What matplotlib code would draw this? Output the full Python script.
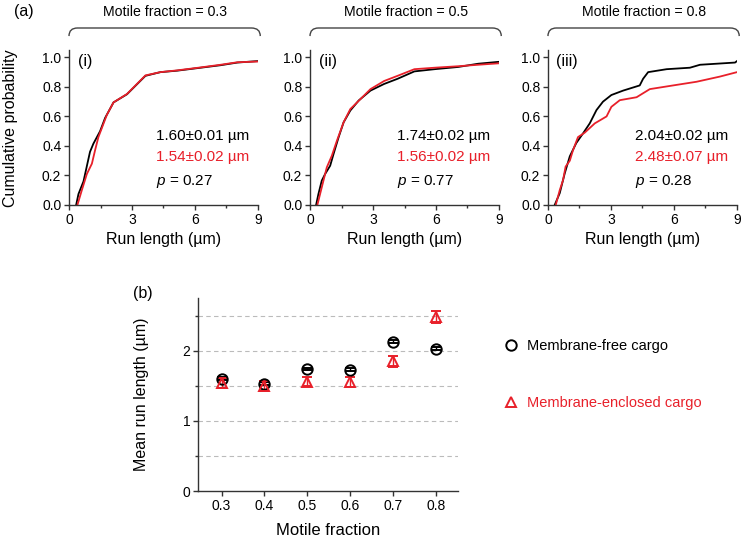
import matplotlib.pyplot as plt
from matplotlib.path import Path
from matplotlib.patches import PathPatch
from matplotlib.lines import Line2D
from matplotlib.ticker import MultipleLocator

plt.rcParams['font.family'] = ['Liberation Sans', 'DejaVu Sans']
plt.rcParams['mathtext.fontset'] = 'custom'
plt.rcParams['mathtext.it'] = 'Liberation Sans:italic'
plt.rcParams['mathtext.rm'] = 'Liberation Sans'

RED = '#e8202a'
AXC = '#333333'

# cumulative run-length curves (x in µm, y = cumulative probability) (i)-(iii)
free_x_03 = [0.34, 0.45, 0.69, 0.86, 1.00, 1.16, 1.48, 1.72, 2.12, 2.76, 3.64, 4.35, 5.15, 6.27, 7.22, 8.02, 9.0]
free_y_03 = [0.0, 0.074, 0.16, 0.27, 0.36, 0.415, 0.50, 0.59, 0.695, 0.75, 0.875, 0.90, 0.91, 0.93, 0.947, 0.965, 0.975]
encl_x_03 = [0.40, 0.61, 0.85, 1.09, 1.24, 1.40, 1.64, 1.80, 2.12, 2.76, 3.64, 4.35, 5.15, 6.27, 7.22, 8.02, 9.0]
encl_y_03 = [0.0, 0.10, 0.21, 0.28, 0.37, 0.46, 0.55, 0.61, 0.695, 0.752, 0.878, 0.90, 0.912, 0.932, 0.95, 0.967, 0.972]

free_x_05 = [0.29, 0.40, 0.56, 0.72, 0.96, 1.12, 1.36, 1.60, 1.92, 2.32, 2.88, 3.53, 4.17, 4.97, 5.93, 7.05, 8.01, 9.0]
free_y_05 = [0.0, 0.074, 0.165, 0.21, 0.266, 0.345, 0.458, 0.56, 0.64, 0.708, 0.775, 0.82, 0.855, 0.905, 0.92, 0.935, 0.957, 0.97]
encl_x_05 = [0.35, 0.48, 0.64, 0.80, 1.04, 1.28, 1.60, 1.92, 2.40, 2.88, 3.53, 4.17, 4.97, 5.93, 7.05, 8.01, 9.0]
encl_y_05 = [0.0, 0.074, 0.165, 0.255, 0.334, 0.435, 0.56, 0.65, 0.717, 0.785, 0.84, 0.875, 0.92, 0.93, 0.94, 0.95, 0.96]

free_x_08 = [0.32, 0.56, 0.80, 1.04, 1.35, 1.67, 1.99, 2.31, 2.62, 3.02, 3.58, 4.37, 4.53, 4.77, 5.65, 6.76, 7.24, 8.91, 9.0]
free_y_08 = [0.0, 0.08, 0.215, 0.33, 0.42, 0.485, 0.553, 0.643, 0.70, 0.745, 0.775, 0.81, 0.855, 0.90, 0.92, 0.93, 0.95, 0.965, 0.975]
encl_x_08 = [0.37, 0.56, 0.72, 0.84, 1.04, 1.19, 1.43, 1.75, 2.23, 2.79, 3.02, 3.42, 4.22, 4.85, 5.96, 7.08, 8.19, 9.0]
encl_y_08 = [0.0, 0.10, 0.17, 0.26, 0.30, 0.37, 0.46, 0.49, 0.553, 0.60, 0.665, 0.71, 0.73, 0.785, 0.81, 0.835, 0.87, 0.90]

panel_fracs = ['0.3', '0.5', '0.8']
panel_tags = ['(i)', '(ii)', '(iii)']
free_text = ['1.60\u00b10.01 \u00b5m', '1.74\u00b10.02 \u00b5m', '2.04\u00b10.02 \u00b5m']
encl_text = ['1.54\u00b10.02 \u00b5m', '1.56\u00b10.02 \u00b5m', '2.48\u00b10.07 \u00b5m']
p_values = ['0.27', '0.77', '0.28']

# panel (b)
fractions = [0.3, 0.4, 0.5, 0.6, 0.7, 0.8]
free_mean = [1.60, 1.53, 1.74, 1.73, 2.13, 2.03]
free_err = [0.02, 0.02, 0.02, 0.02, 0.02, 0.02]
encl_mean = [1.54, 1.50, 1.56, 1.55, 1.85, 2.48]
encl_err = [0.07, 0.07, 0.07, 0.07, 0.08, 0.08]

fig = plt.figure(figsize=(7.42, 5.40), dpi=100)

curves = [(free_x_03, free_y_03, encl_x_03, encl_y_03),
          (free_x_05, free_y_05, encl_x_05, encl_y_05),
          (free_x_08, free_y_08, encl_x_08, encl_y_08)]
lefts = [0.093, 0.4178, 0.7385]


def style_axes(ax):
    for s in ['top', 'right']:
        ax.spines[s].set_visible(False)
    for s in ['left', 'bottom']:
        ax.spines[s].set_color(AXC)
        ax.spines[s].set_linewidth(1.0)
    ax.tick_params(which='both', direction='out', color=AXC, labelsize=10, width=1.0)
    ax.tick_params(which='major', length=3.5, pad=2)
    ax.tick_params(which='minor', length=2)


for k in range(3):
    ax = fig.add_axes([lefts[k], 0.6204, 0.2547, 0.287])
    fx, fy, ex, ey = curves[k]
    ax.plot(fx, fy, color='black', lw=1.3)
    ax.plot(ex, ey, color=RED, lw=1.3)
    ax.set_xlim(0, 9)
    ax.set_ylim(0, 1.05)
    ax.set_xticks([0, 3, 6, 9])
    ax.xaxis.set_minor_locator(MultipleLocator(1.5))
    ax.set_yticks([0, 0.2, 0.4, 0.6, 0.8, 1.0])
    ax.set_yticklabels(['0.0', '0.2', '0.4', '0.6', '0.8', '1.0'])
    style_axes(ax)
    ax.set_xlabel('Run length (\u00b5m)', fontsize=11.5)
    ax.xaxis.set_label_coords(0.5, -0.175)
    ax.text(0.045, 0.975, panel_tags[k], transform=ax.transAxes, fontsize=11.5, va='top')
    ax.text(0.46, 0.445, free_text[k], transform=ax.transAxes, fontsize=11, va='center', color='black')
    ax.text(0.46, 0.31, encl_text[k], transform=ax.transAxes, fontsize=11, va='center', color=RED)
    ax.text(0.46, 0.15, '$p$ = ' + p_values[k], transform=ax.transAxes, fontsize=11, va='center')
    # bracket over the panel
    verts = [(0.0, 1.09), (0.0, 1.142), (0.045, 1.142), (0.965, 1.142), (1.012, 1.142), (1.012, 1.09)]
    codes = [Path.MOVETO, Path.CURVE3, Path.CURVE3, Path.LINETO, Path.CURVE3, Path.CURVE3]
    ax.add_patch(PathPatch(Path(verts, codes), transform=ax.transAxes, fill=False,
                           edgecolor='#444444', lw=1.0, clip_on=False))
    ax.text(0.51, 1.245, 'Motile fraction = ' + panel_fracs[k], transform=ax.transAxes,
            fontsize=10.2, ha='center', va='center')

fig.text(0.019, 0.978, '(a)', fontsize=11.5, va='center', ha='left')
fig.text(0.014, 0.763, 'Cumulative probability', fontsize=11.5, rotation=90, ha='center', va='center')

axb = fig.add_axes([0.2668, 0.0907, 0.3504, 0.3574])
axb.errorbar(fractions, free_mean, yerr=free_err, fmt='o', mfc='none', mec='black', ecolor='black',
             ms=7.5, mew=1.4, elinewidth=1.0, capsize=3.5, capthick=1.0, zorder=3)
axb.errorbar(fractions, encl_mean, yerr=encl_err, fmt='^', mfc='none', mec=RED, ecolor=RED,
             ms=7.5, mew=1.4, elinewidth=1.0, capsize=3.5, capthick=1.0, zorder=3)
axb.set_xlim(0.245, 0.851)
axb.set_ylim(0, 2.75)
axb.set_xticks(fractions)
axb.set_xticklabels(['0.3', '0.4', '0.5', '0.6', '0.7', '0.8'])
axb.set_yticks([0, 1, 2])
axb.yaxis.set_minor_locator(MultipleLocator(0.5))
style_axes(axb)
for g in [0.5, 1.0, 1.5, 2.0, 2.5]:
    axb.axhline(g, color='#bbbbbb', lw=0.8, ls=(0, (4, 3)), zorder=0)
axb.set_xlabel('Motile fraction', fontsize=12)
axb.xaxis.set_label_coords(0.5, -0.165)
axb.set_ylabel('Mean run length (\u00b5m)', fontsize=11.5)
axb.yaxis.set_label_coords(-0.19, 0.5)
fig.text(0.193, 0.457, '(b)', fontsize=11.5, va='center', ha='center')

handles = [Line2D([], [], ls='none', marker='o', mfc='none', mec='black', ms=7.5, mew=1.4),
           Line2D([], [], ls='none', marker='^', mfc='none', mec=RED, ms=7.5, mew=1.4)]
leg = fig.legend(handles, ['Membrane-free cargo', 'Membrane-enclosed cargo'],
                 loc='upper left', bbox_to_anchor=(0.659, 0.396), frameon=False,
                 fontsize=10.5, labelspacing=2.95, handletextpad=0.5, handlelength=1.2)
leg.get_texts()[1].set_color(RED)

fig.savefig('out.png', dpi=100)
